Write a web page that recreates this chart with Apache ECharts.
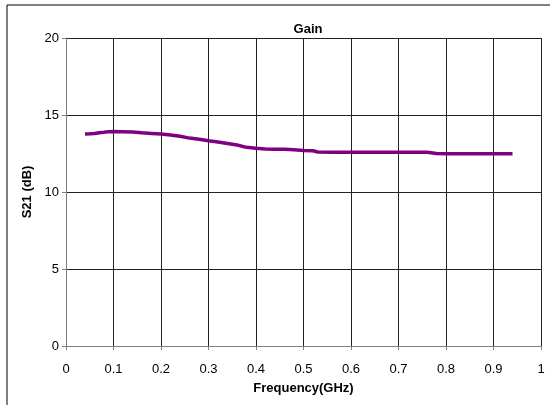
<!DOCTYPE html>
<html>
<head>
<meta charset="utf-8">
<script src="https://cdn.jsdelivr.net/npm/echarts@6/dist/echarts.min.js"></script>
<style>html,body{margin:0;padding:0;background:#fff;}#c{width:550px;height:405px;}</style>
</head>
<body>
<div id="c"></div>
<script>
const titleText = 'Gain';
const xName = 'Frequency(GHz)';
const yName = 'S21 (dB)';
const freq = [0.04,0.05,0.06,0.07,0.08,0.09,0.10,0.12,0.14,0.16,0.18,0.20,0.22,0.24,0.26,0.28,0.30,0.32,0.34,0.36,0.38,0.40,0.42,0.44,0.46,0.48,0.50,0.52,0.53,0.56,0.60,0.64,0.68,0.72,0.76,0.78,0.80,0.84,0.88,0.92,0.94];
const gain = [13.77,13.78,13.80,13.85,13.88,13.92,13.93,13.92,13.90,13.84,13.80,13.76,13.70,13.62,13.50,13.42,13.33,13.25,13.15,13.05,12.90,12.84,12.80,12.77,12.77,12.74,12.70,12.68,12.60,12.58,12.58,12.58,12.58,12.58,12.58,12.50,12.49,12.49,12.48,12.48,12.48];
const data = freq.map((f, i) => [f, gain[i]]);
const chart = echarts.init(document.getElementById('c'));
const font = '"Liberation Sans Narrow", "Liberation Sans", Arial, sans-serif';
chart.setOption({
  animation: false,
  title: {text: titleText, left: 303, top: 18, textAlign: 'center',
    textStyle: {fontFamily: font, fontSize: 13, fontWeight: 'bold', color: '#000'}},
  graphic: [{type: 'rect', shape: {x: 7, y: 5, width: 700, height: 600},
    style: {fill: 'none', stroke: '#000', lineWidth: 1}}],
  grid: {left: 66, right: 9, top: 38, bottom: 59},
  xAxis: {type: 'value', min: 0, max: 1, interval: 0.1,
    name: xName, nameLocation: 'middle', nameGap: 36,
    nameTextStyle: {fontFamily: font, fontSize: 13, fontWeight: 'bold', color: '#000'},
    axisLine: {onZero: false, lineStyle: {color: '#808080', width: 1}},
    axisTick: {show: true, length: 4, lineStyle: {color: '#808080'}},
    axisLabel: {fontFamily: font, fontSize: 13, color: '#000', margin: 17},
    splitLine: {show: true, lineStyle: {color: '#222', width: 1}}},
  yAxis: {type: 'value', min: 0, max: 20, interval: 5,
    name: yName, nameLocation: 'middle', nameGap: 27, nameRotate: 90,
    nameTextStyle: {fontFamily: font, fontSize: 13, fontWeight: 'bold', color: '#000'},
    axisLine: {show: true, lineStyle: {color: '#808080', width: 1}},
    axisTick: {show: true, length: 4, lineStyle: {color: '#808080'}},
    axisLabel: {fontFamily: font, fontSize: 13, color: '#000', margin: 7},
    splitLine: {show: true, lineStyle: {color: '#222', width: 1}}},
  series: [{type: 'line', data: data, showSymbol: false, symbol: 'none',
    lineStyle: {color: '#800080', width: 3.5}}]
});
</script>
</body>
</html>
